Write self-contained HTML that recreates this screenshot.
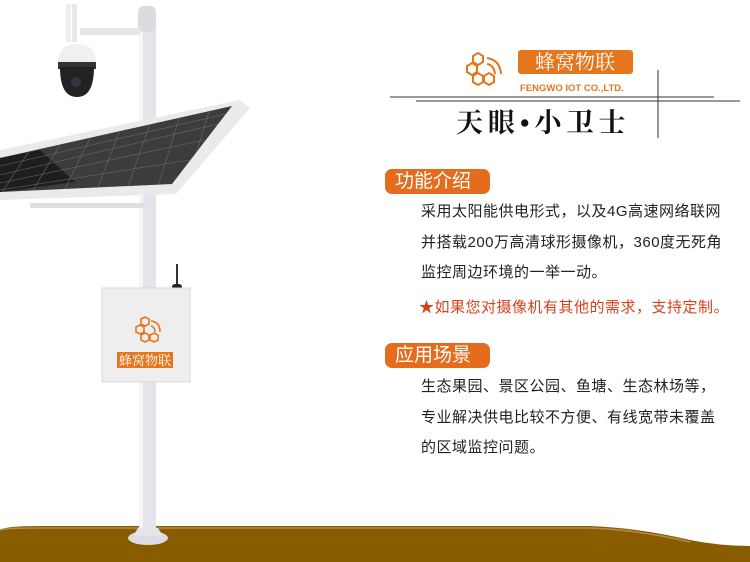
<!DOCTYPE html>
<html><head><meta charset="utf-8"><style>
body{margin:0;width:750px;height:562px;overflow:hidden;background:#fff;position:relative;font-family:"Liberation Sans","Noto Sans CJK SC",sans-serif}
.a{position:absolute}
.tag{position:absolute;left:385px;width:105px;height:25px;background:#e46c1c;border-radius:7px;color:#fff;font-size:19px;line-height:25px;padding-left:10px;box-sizing:border-box}
.t{position:absolute;left:421px;font-size:15px;letter-spacing:0.5px;color:#222;white-space:nowrap;line-height:20px}
</style></head><body>
<svg class="a" style="left:0;top:0" width="750" height="562">
<defs><clipPath id="pc"><polygon points="0,158 232,106 172,184 0,192"/></clipPath></defs>
<path d="M0 530 Q5 526 40 526 L590 526 Q640 528 690 540 Q720 546 750 546 L750 562 L0 562 Z" fill="#8a5c00"/>
<path d="M0 530 Q5 528 40 528 L590 528 Q640 530 690 542" stroke="#b48a4a" stroke-width="1.5" fill="none"/>
<rect x="139" y="18" width="17" height="515" fill="#e4e4ea"/>
<rect x="139" y="18" width="4" height="515" fill="#f6f6f8"/>
<ellipse cx="148" cy="538" rx="20" ry="7" fill="#dcdce2"/>
<path d="M138 528 L158 528 L163 536 L133 536 Z" fill="#e4e4ea"/>
<rect x="138" y="6" width="18" height="26" rx="6" fill="#dcdce0"/>
<rect x="80" y="28" width="60" height="7" fill="#e6e6ea"/>
<rect x="66" y="4" width="5" height="38" fill="#eee"/>
<rect x="72" y="4" width="5" height="38" fill="#e8e8e8"/>
<path d="M58 64 Q58 44 77 44 Q96 44 96 64 Z" fill="#f0f0f0"/>
<rect x="58" y="62" width="38" height="7" fill="#333"/>
<path d="M60 67 L94 67 Q94 97 77 97 Q60 97 60 67 Z" fill="#222"/>
<circle cx="76" cy="82" r="5" fill="#3a3344"/>
<polygon points="0,150 240,100 250,108 176,194 0,200" fill="#eaeaea"/>
<polygon points="0,158 232,106 172,184 0,192" fill="#3c3c3c"/>
<polygon points="0,158 40,150 75,182 0,192" fill="#1e1e1e"/>
<g clip-path="url(#pc)" stroke="#6a6a6a" stroke-width="0.6">
<line x1="0" y1="166" x2="226" y2="114"/><line x1="0" y1="175" x2="218" y2="124"/><line x1="0" y1="183" x2="205" y2="140"/><line x1="0" y1="190" x2="190" y2="160"/>
<line x1="30" y1="150" x2="0" y2="195"/><line x1="60" y1="145" x2="30" y2="195"/><line x1="90" y1="138" x2="62" y2="195"/><line x1="120" y1="130" x2="95" y2="195"/><line x1="150" y1="124" x2="125" y2="195"/><line x1="180" y1="116" x2="155" y2="195"/><line x1="210" y1="108" x2="185" y2="190"/>
</g>
<rect x="30" y="203" width="115" height="5" fill="#e0e0e4"/>
<rect x="176" y="264" width="2" height="22" fill="#333"/>
<rect x="172" y="284" width="10" height="6" rx="3" fill="#222"/>
<rect x="102" y="288" width="88" height="94" fill="#eeeeee" stroke="#d8d8d8"/>
<g fill="none" stroke="#e4761e" stroke-width="1.6">
<polygon points="141,319 145,317 149,319 149,324 145,326 141,324"/>
<polygon points="136,327 140,325 144,327 144,332 140,334 136,332"/>
<polygon points="141,335 145,333 149,335 149,340 145,342 141,340"/>
<polygon points="150,335 154,333 158,335 158,340 154,342 150,340"/>
<path d="M151 321 Q160 322 160 332 M151 326 Q155 327 155 332"/>
</g>
<rect x="117" y="352" width="56" height="16" fill="#e4761e"/>
<text x="145" y="365" text-anchor="middle" fill="#fff" font-size="13" font-family="Liberation Serif,Noto Serif CJK SC,serif">蜂窝物联</text>
<g fill="none" stroke="#e4761e" stroke-width="2">
<polygon points="473,56 478,53 483,56 483,62 478,65 473,62"/>
<polygon points="467,66 472,63 477,66 477,72 472,75 467,72"/>
<polygon points="473,76 478,73 483,76 483,82 478,85 473,82"/>
<polygon points="484,76 489,73 494,76 494,82 489,85 484,82"/>
<path d="M487 58 Q500 60 501 74 M487 64 Q494 65 495 74"/>
</g>
<rect x="518" y="50" width="115" height="24" rx="3" fill="#e4761e"/>
<text x="575" y="69" text-anchor="middle" fill="#fff" font-size="20" font-family="Liberation Serif,Noto Serif CJK SC,serif">蜂窝物联</text>
<text x="520" y="91" fill="#e4761e" font-size="9.5" font-weight="bold">FENGWO IOT  CO.,LTD.</text>
<line x1="390" y1="97" x2="714" y2="97" stroke="#333" stroke-width="1"/>
<line x1="416" y1="101" x2="740" y2="101" stroke="#333" stroke-width="1"/>
<line x1="658" y1="70" x2="658" y2="138" stroke="#333" stroke-width="1"/>
<text x="456" y="132" fill="#111" font-size="27" font-weight="bold" letter-spacing="5" font-family="Liberation Serif,Noto Serif CJK SC,serif">天眼•小卫士</text>
</svg>
<div class="tag" style="top:169px">功能介绍</div>
<div class="t" style="top:202px">采用太阳能供电形式，以及4G高速网络联网</div>
<div class="t" style="top:233px">并搭载200万高清球形摄像机，360度无死角</div>
<div class="t" style="top:263px">监控周边环境的一举一动。</div>
<div class="t" style="top:298px;left:419px;color:#d8401c">★如果您对摄像机有其他的需求，支持定制。</div>
<div class="tag" style="top:343px">应用场景</div>
<div class="t" style="top:377px">生态果园、景区公园、鱼塘、生态林场等，</div>
<div class="t" style="top:408px">专业解决供电比较不方便、有线宽带未覆盖</div>
<div class="t" style="top:438px">的区域监控问题。</div>
</body></html>
